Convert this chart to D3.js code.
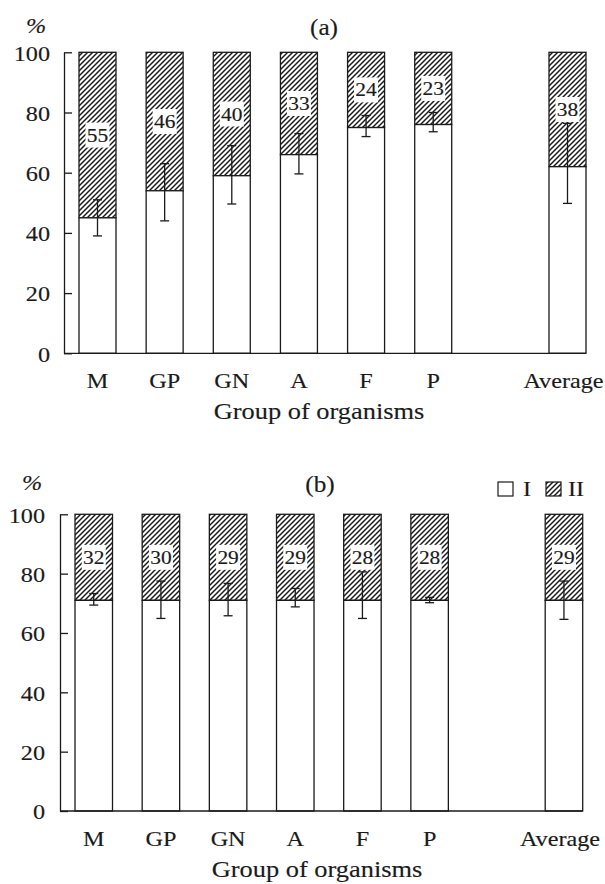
<!DOCTYPE html>
<html><head><meta charset="utf-8">
<script src="https://cdn.jsdelivr.net/npm/d3@7"></script>
<style>body{margin:0;background:#fff}svg{display:block}</style>
</head><body>
<svg id="c" width="605" height="884"></svg>
<script>
// ---------- data ----------
const categories = ["M","GP","GN","A","F","P","Average"];
const yTicks = [0,20,40,60,80,100];
const shareA_I = [45,54,59,66,75,76,62];
const labelA_II = [55,46,40,33,24,23,38];
const errA_low  = [39,44,49.6,59.6,72,73.6,49.8];
const errA_high = [51,63,69,73,79,80,76.4];
const shareB_I = [71,71,71,71,71,71,71];
const labelB_II = [32,30,29,29,28,28,29];
const errB_low  = [69.4,64.9,65.8,68.8,64.9,70.2,64.6];
const errB_high = [73.3,77.5,76.7,75,80.6,72,77.5];
const legendLabels = ["I","II"];
const panelLabels = ["(a)","(b)"];
const xTitle = "Group of organisms";
const yUnit = "%";

// ---------- layout ----------
const SX = 1.1;
const FONT = "'Liberation Serif','Times New Roman',Times,serif";
const INK = "#1a1a1a";
const TSW = 0.15;
const svg = d3.select("#c");

const defs = svg.append("defs");
const P = 5;
const pat = defs.append("pattern").attr("id","hatch").attr("patternUnits","userSpaceOnUse")
  .attr("width",P).attr("height",P);
pat.append("rect").attr("width",P).attr("height",P).attr("fill","#fff");
pat.append("path").attr("d",`M0,${P} L${P},0 M-1.5,1.5 L1.5,-1.5 M${P-1.5},${P+1.5} L${P+1.5},${P-1.5}`)
  .attr("stroke",INK).attr("stroke-width",1.45);

const slots = ["M","GP","GN","A","F","P","_gap","Average"];

function stext(g, x, y, str, size, anchor){
  return g.append("text").attr("transform",`translate(${x},${y}) scale(${SX},1)`)
    .attr("text-anchor",anchor||"middle").attr("font-family",FONT)
    .attr("font-size",size).attr("fill",INK).attr("stroke",INK).attr("stroke-width",TSW).text(str);
}

function drawPanel(cfg, valsI, labsII, lo, hi, withLegend, pLabel){
  const g = svg.append("g");
  const x = d3.scaleBand().domain(slots).range([cfg.x0, cfg.x1]).paddingInner(cfg.pad).paddingOuter(0);
  const y = d3.scaleLinear().domain([0,100]).range([cfg.yb, cfg.yt]);
  const bw = x.bandwidth();
  const rows = categories.map((c,i)=>({c, v:valsI[i], l:labsII[i], lo:lo[i], hi:hi[i]}));

  g.selectAll(".b2").data(rows).join("rect")
    .attr("x",d=>x(d.c)).attr("width",bw)
    .attr("y",y(100)).attr("height",d=>y(d.v)-y(100))
    .attr("fill","url(#hatch)").attr("stroke",INK).attr("stroke-width",1.3);
  g.selectAll(".b1").data(rows).join("rect")
    .attr("x",d=>x(d.c)).attr("width",bw)
    .attr("y",d=>y(d.v)).attr("height",d=>y(0)-y(d.v))
    .attr("fill","#fff").attr("stroke",INK).attr("stroke-width",1.3);

  const eb = g.selectAll(".eb").data(rows).join("g").attr("stroke",INK).attr("stroke-width",1.3);
  eb.append("line").attr("x1",d=>x(d.c)+bw/2).attr("x2",d=>x(d.c)+bw/2)
    .attr("y1",d=>y(d.lo)).attr("y2",d=>y(d.hi));
  eb.append("line").attr("x1",d=>x(d.c)+bw/2-4.5).attr("x2",d=>x(d.c)+bw/2+4.5)
    .attr("y1",d=>y(d.lo)).attr("y2",d=>y(d.lo));
  eb.append("line").attr("x1",d=>x(d.c)+bw/2-4.5).attr("x2",d=>x(d.c)+bw/2+4.5)
    .attr("y1",d=>y(d.hi)).attr("y2",d=>y(d.hi));

  rows.forEach(d=>{
    const cx = x(d.c)+bw/2, cy = y((d.v+100)/2);
    g.append("rect").attr("x",cx-12).attr("y",cy-12.5).attr("width",24).attr("height",25).attr("fill","#fff");
    stext(g, cx, cy+6.5, d.l, 19.5);
  });

  const ax = g.append("g").attr("transform",`translate(${cfg.ax},0)`)
    .call(d3.axisLeft(y).tickValues(yTicks).tickSizeInner(-8).tickSizeOuter(0).tickPadding(cfg.tp));
  ax.select(".domain").attr("stroke",INK).attr("stroke-width",1.3);
  ax.selectAll(".tick line").attr("stroke",INK).attr("stroke-width",1.3);
  ax.selectAll("text").attr("font-family",FONT).attr("font-size",22).attr("fill",INK)
    .attr("stroke",INK).attr("stroke-width",TSW)
    .attr("transform",`scale(${SX},1)`).attr("x",-cfg.tp/SX).attr("dy","0.35em");

  g.append("line").attr("x1",cfg.ax).attr("x2",cfg.x1).attr("y1",y(0)).attr("y2",y(0))
    .attr("stroke",INK).attr("stroke-width",1.3);
  const bx = g.append("g").attr("transform",`translate(0,${y(0)})`)
    .call(d3.axisBottom(x).tickSize(0).tickPadding(19));
  bx.select(".domain").remove();
  bx.selectAll(".tick").filter(d=>d==="_gap").remove();
  bx.selectAll("text").attr("font-family",FONT).attr("font-size",22).attr("fill",INK)
    .attr("stroke",INK).attr("stroke-width",TSW)
    .attr("transform",d=>`translate(${d==="Average"?-4:0},0) scale(${SX},1)`);

  stext(g, cfg.titleX, y(0)+66, xTitle, 24);
  stext(g, cfg.pctX, cfg.pctY, yUnit, 22).attr("font-style","italic");
  stext(g, cfg.plX, cfg.plY, pLabel, 23);

  if(withLegend){
    const L = g.append("g");
    L.append("rect").attr("x",498).attr("y",482).attr("width",15).attr("height",14)
      .attr("fill","#fff").attr("stroke",INK).attr("stroke-width",1.2);
    stext(L, 523, 496, legendLabels[0], 22, "start");
    L.append("rect").attr("x",546).attr("y",482).attr("width",15).attr("height",14)
      .attr("fill","url(#hatch)").attr("stroke",INK).attr("stroke-width",1.2);
    stext(L, 568, 496, legendLabels[1], 22, "start");
  }
}

drawPanel({x0:79,x1:586,pad:0.449,yb:353.3,yt:52.3,ax:64,tp:14,titleX:319,pctX:36,pctY:33,plX:324,plY:35},
  shareA_I,labelA_II,errA_low,errA_high,false,panelLabels[0]);
drawPanel({x0:75,x1:582.7,pad:0.4417,yb:811,yt:514.3,ax:60,tp:15,titleX:317,pctX:32,pctY:490,plX:320,plY:492},
  shareB_I,labelB_II,errB_low,errB_high,true,panelLabels[1]);
</script>
</body></html>
